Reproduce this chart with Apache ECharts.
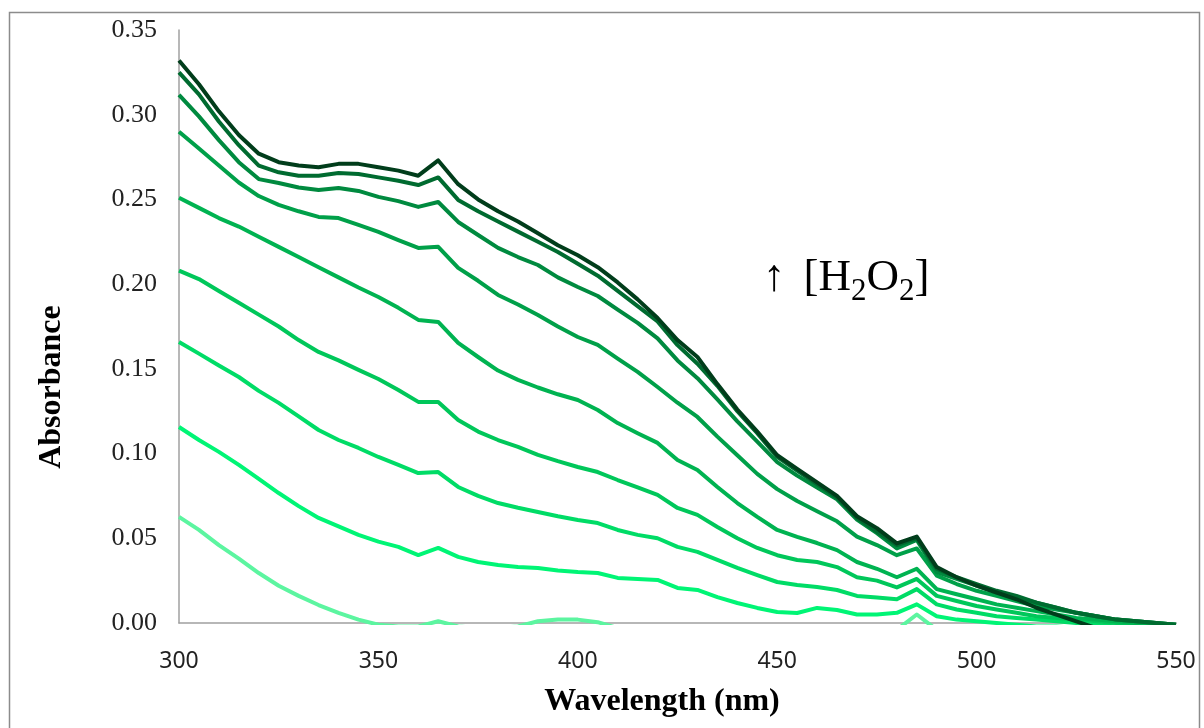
<!DOCTYPE html>
<html>
<head>
<meta charset="utf-8">
<script src="https://cdn.jsdelivr.net/npm/echarts@6/dist/echarts.min.js"></script>
<style>
html,body{margin:0;padding:0;background:#fff;}
#chart{width:1204px;height:728px;}
</style>
</head>
<body>
<div id="chart"></div>
<script>
const wavelengths = [300,305,310,315,320,325,330,335,340,345,350,355,360,365,370,375,380,385,390,395,400,405,410,415,420,425,430,435,440,445,450,455,460,465,470,475,480,485,490,495,500,505,510,515,520,525,530,535,540,545,550];

const yTicks = [0, 0.35, 0.05];
const xTicks = [300, 550, 50];

const abs2 = [0.0626,0.055,0.046,0.038,0.0295,0.022,0.016,0.0106,0.006,0.002,-0.001,-0.002,-0.002,0.001,-0.002,-0.003,-0.003,-0.002,0.001,0.002,0.002,0.0005,-0.003,-0.004,-0.004,-0.005,-0.005,-0.006,-0.006,-0.007,-0.007,-0.006,-0.005,-0.005,-0.006,-0.005,-0.004,0.005,-0.004,-0.005,-0.005,-0.006,-0.006,-0.006,-0.007,-0.007,-0.007,-0.007,-0.007,-0.007,-0.007];
const abs3 = [0.1157,0.108,0.101,0.0933,0.085,0.0767,0.069,0.062,0.057,0.052,0.048,0.0449,0.0401,0.0443,0.039,0.036,0.0342,0.033,0.0325,0.031,0.0301,0.0295,0.0266,0.026,0.0254,0.0207,0.0195,0.0153,0.0118,0.0089,0.0065,0.0059,0.0089,0.0077,0.005,0.005,0.006,0.011,0.004,0.002,0.001,0.000,-0.001,-0.002,-0.002,-0.003,-0.003,-0.003,-0.003,-0.003,-0.003];
const abs4 = [0.1659,0.159,0.152,0.1452,0.137,0.1299,0.122,0.1139,0.108,0.1033,0.098,0.0933,0.0885,0.0891,0.0803,0.075,0.0708,0.068,0.0655,0.063,0.0608,0.059,0.0549,0.052,0.050,0.0449,0.042,0.0372,0.0325,0.0283,0.0242,0.0224,0.0213,0.0195,0.016,0.015,0.014,0.020,0.011,0.008,0.006,0.004,0.003,0.002,0.001,0.000,-0.001,-0.002,-0.002,-0.002,-0.002];
const abs5 = [0.208,0.203,0.196,0.189,0.182,0.175,0.167,0.160,0.155,0.1494,0.144,0.1375,0.1305,0.1305,0.1198,0.113,0.108,0.1039,0.0992,0.0955,0.0921,0.0891,0.0844,0.080,0.0756,0.0679,0.0638,0.0567,0.050,0.0443,0.040,0.0372,0.036,0.033,0.027,0.025,0.021,0.026,0.016,0.013,0.010,0.008,0.006,0.004,0.003,0.002,0.001,0.000,-0.001,-0.002,-0.003];
const abs6 = [0.251,0.245,0.239,0.234,0.228,0.222,0.216,0.210,0.204,0.198,0.1924,0.186,0.1789,0.1777,0.1653,0.157,0.149,0.1435,0.139,0.135,0.1316,0.1257,0.118,0.112,0.1063,0.0962,0.0903,0.0803,0.0708,0.0626,0.0549,0.0508,0.0472,0.043,0.036,0.032,0.027,0.032,0.020,0.017,0.014,0.011,0.009,0.007,0.005,0.003,0.002,0.001,0.000,-0.001,-0.002];
const abs7 = [0.290,0.280,0.270,0.260,0.252,0.2468,0.243,0.2397,0.239,0.235,0.2308,0.226,0.2214,0.222,0.2096,0.202,0.1936,0.188,0.1818,0.175,0.1688,0.1641,0.156,0.1482,0.1393,0.130,0.1216,0.110,0.099,0.088,0.079,0.072,0.066,0.060,0.051,0.046,0.040,0.044,0.028,0.023,0.019,0.016,0.013,0.010,0.008,0.006,0.004,0.002,0.001,0.000,-0.001];
const abs8 = [0.3117,0.299,0.285,0.272,0.262,0.2597,0.257,0.2556,0.2568,0.255,0.2515,0.249,0.2456,0.2485,0.2367,0.229,0.2214,0.216,0.2113,0.204,0.1983,0.193,0.185,0.1771,0.168,0.155,0.1445,0.132,0.119,0.107,0.095,0.087,0.080,0.073,0.061,0.053,0.044,0.049,0.030,0.026,0.022,0.018,0.015,0.012,0.009,0.006,0.004,0.002,0.001,0.000,-0.001];
const abs9 = [0.325,0.312,0.296,0.282,0.270,0.266,0.264,0.264,0.2656,0.265,0.263,0.261,0.2585,0.263,0.2497,0.243,0.237,0.231,0.225,0.219,0.212,0.205,0.196,0.187,0.178,0.164,0.153,0.140,0.125,0.112,0.098,0.090,0.082,0.074,0.062,0.054,0.046,0.050,0.032,0.027,0.023,0.019,0.016,0.012,0.009,0.006,0.004,0.002,0.001,0.000,-0.001];
const abs10 = [0.332,0.318,0.302,0.288,0.277,0.272,0.270,0.269,0.271,0.271,0.269,0.267,0.264,0.273,0.259,0.250,0.243,0.237,0.230,0.223,0.217,0.210,0.201,0.191,0.180,0.167,0.157,0.141,0.126,0.113,0.099,0.091,0.083,0.075,0.063,0.056,0.047,0.051,0.033,0.027,0.022,0.018,0.014,0.009,0.005,0.001,-0.003,-0.006,-0.008,-0.010,-0.011];

const seriesList = [abs2, abs3, abs4, abs5, abs6, abs7, abs8, abs9, abs10];
const seriesNames = ['s2','s3','s4','s5','s6','s7','s8','s9','s10'];
const seriesColors = ['#5cf5a0','#00f575','#00dc66','#00c75a','#00b351','#00a049','#008a3f','#006b30','#013d1b'];

const chart = echarts.init(document.getElementById('chart'), null, {renderer: 'canvas'});

const series = seriesList.map((vals, i) => ({
  name: seriesNames[i],
  type: 'line',
  data: wavelengths.map((w, j) => [w, vals[j]]),
  showSymbol: false,
  symbol: 'none',
  clip: true,
  lineStyle: {color: seriesColors[i], width: 4, join: 'round'},
  itemStyle: {color: seriesColors[i]},
  silent: true,
  animation: false,
  z: 2 + i
}));

const titleFont = 'bold 32px "Liberation Serif"';

const option = {
  backgroundColor: '#ffffff',
  animation: false,
  grid: {left: 179, right: 28, top: 30, bottom: 105, containLabel: false},
  xAxis: {
    type: 'value',
    min: xTicks[0], max: xTicks[1], interval: xTicks[2],
    axisLine: {show: true, lineStyle: {color: '#a0a0a0', width: 1.5}},
    axisTick: {show: false},
    splitLine: {show: false},
    axisLabel: {fontFamily: 'Noto Sans', fontSize: 23, color: '#222', margin: 27}
  },
  yAxis: {
    type: 'value',
    min: yTicks[0], max: yTicks[1], interval: yTicks[2],
    axisLine: {show: true, lineStyle: {color: '#a0a0a0', width: 1.5}},
    axisTick: {show: false},
    splitLine: {show: false},
    axisLabel: {fontFamily: 'Liberation Serif', fontSize: 26, color: '#222', margin: 22,
      formatter: v => v.toFixed(2)}
  },
  graphic: [
    {type: 'rect', silent: true, z: 100,
      shape: {x: 9.5, y: 12.5, width: 1190, height: 730},
      style: {fill: 'none', stroke: '#8c8c8c', lineWidth: 1.5}},
    {type: 'text', silent: true, z: 100, x: 662, y: 702,
      style: {text: 'Wavelength (nm)', font: titleFont, fill: '#000', align: 'center', verticalAlign: 'middle'}},
    {type: 'text', silent: true, z: 100, x: 52, y: 387, rotation: Math.PI / 2,
      style: {text: 'Absorbance', font: titleFont, fill: '#000', align: 'center', verticalAlign: 'middle'}},
    {type: 'text', silent: true, z: 100, x: 763, y: 278,
      style: {
        text: '{arr|↑}[H{sub|2}O{sub|2}]',
        font: '45px "Liberation Serif"',
        fill: '#000',
        align: 'left',
        verticalAlign: 'middle',
        rich: {
          arr: {fontFamily: 'Liberation Serif', fontSize: 45, fill: '#000', padding: [0, 18, 0, 0]},
          sub: {fontFamily: 'Liberation Serif', fontSize: 31, fill: '#000', lineHeight: 31, padding: [28, 0, 0, 0]}
        }
      }}
  ],
  series: series
};
chart.setOption(option);
</script>
</body>
</html>
